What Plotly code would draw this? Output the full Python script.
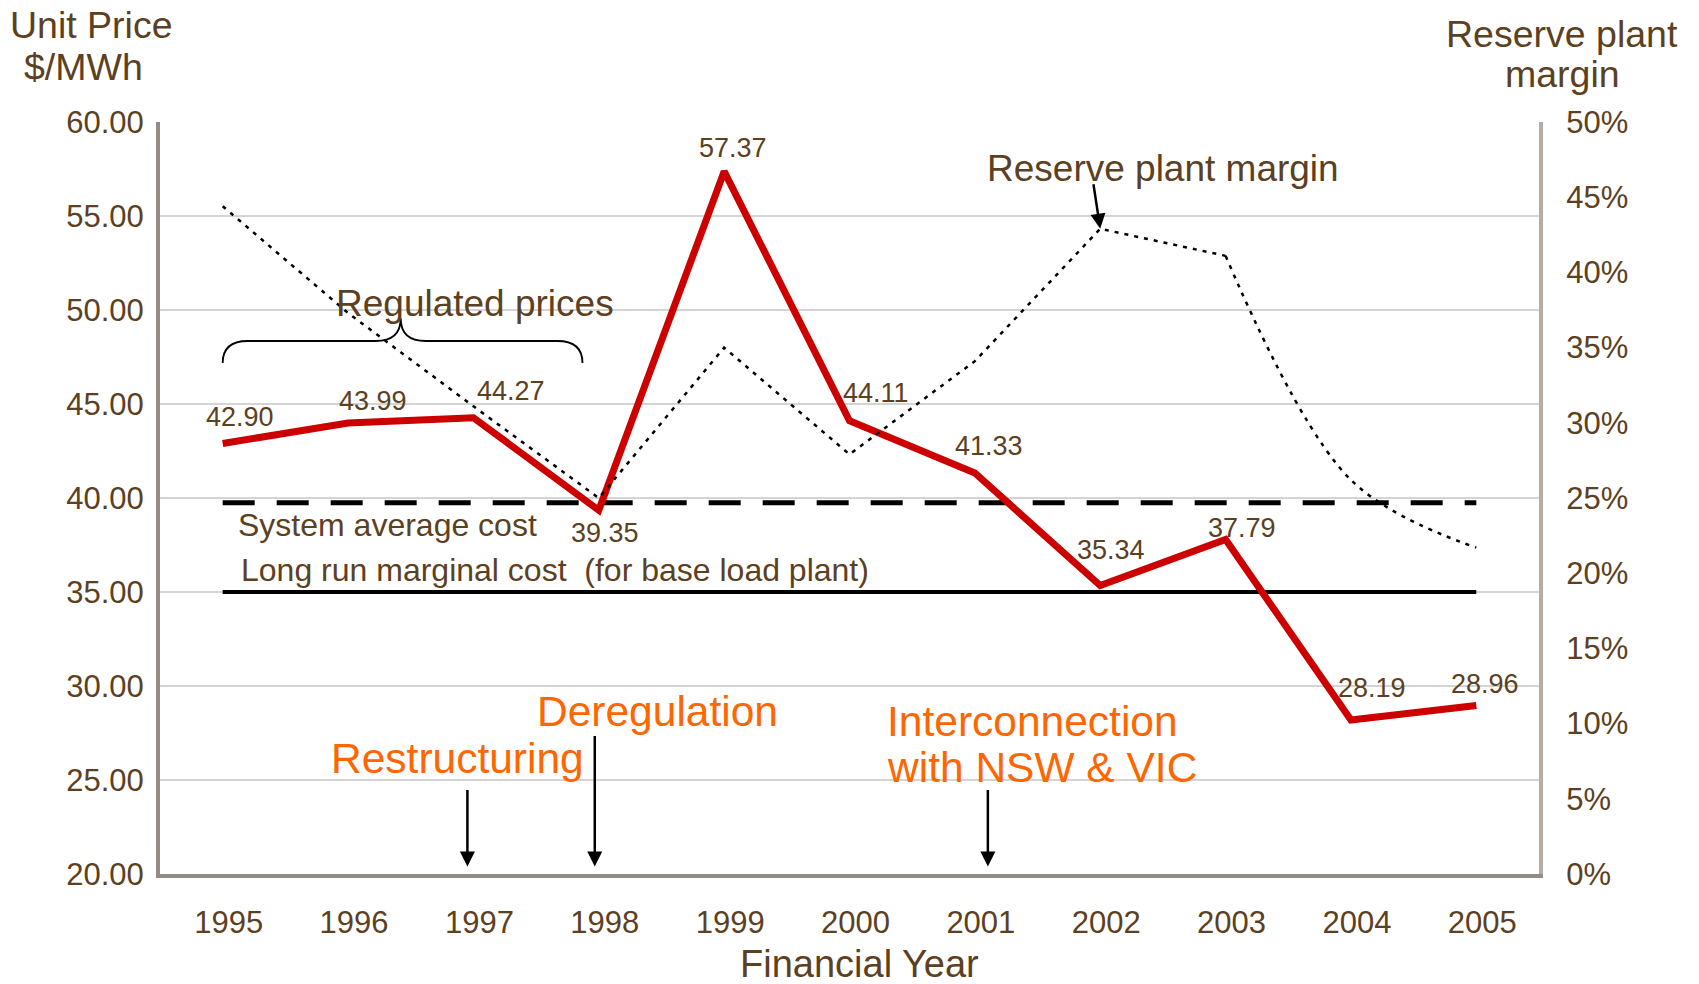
import plotly.graph_objects as go

# ---------------- data ----------------
years = [1995, 1996, 1997, 1998, 1999, 2000, 2001, 2002, 2003, 2004, 2005]
unit_price = [42.90, 43.99, 44.27, 39.35, 57.37, 44.11, 41.33, 35.34, 37.79, 28.19, 28.96]
reserve_margin = [44.4, 37.3, 31.1, 25.0, 35.0, 27.9, 34.1, 42.9, 41.1, 26.2, 21.7]
system_avg_cost = 39.75
long_run_marginal_cost = 35.0
price_ticks = [20, 25, 30, 35, 40, 45, 50, 55, 60]
margin_ticks = [0, 5, 10, 15, 20, 25, 30, 35, 40, 45, 50]
event_labels = ["Restructuring", "Deregulation", "Interconnection"]
event_years = [1997, 1998, 2001]

# ---------------- styles ----------------
FONT = "Liberation Sans, Arial, sans-serif"
BROWN = "#5C4022"
ORANGE = "#FF6600"
RED = "#CC0000"

fig = go.Figure()

# dotted reserve margin: straight segments up to 2003, smoothed tail afterwards
fig.add_trace(go.Scatter(x=years[:9], y=reserve_margin[:9], yaxis="y2", mode="lines",
                         line=dict(color="black", width=2.5, dash="4px,6px"),
                         hoverinfo="skip"))
fig.add_trace(go.Scatter(x=years[8:], y=reserve_margin[8:], yaxis="y2", mode="lines",
                         line=dict(color="black", width=2.5, dash="4px,6px",
                                   shape="spline", smoothing=1.0),
                         hoverinfo="skip"))

# reference cost lines
fig.add_trace(go.Scatter(x=[years[0], years[-1]], y=[system_avg_cost] * 2, mode="lines",
                         line=dict(color="black", width=5, dash="32px,22px")))
fig.add_trace(go.Scatter(x=[years[0], years[-1]], y=[long_run_marginal_cost] * 2, mode="lines",
                         line=dict(color="black", width=4)))

# unit price
fig.add_trace(go.Scatter(x=years, y=unit_price, mode="lines",
                         line=dict(color=RED, width=7)))

annotations = []

# data labels (offsets in pixels)
label_dx = [17, 25, 38, 6, 9, 26, 14, 11, 16, 21, 9]
label_dy = [26, 22, 27, -23, 23, 28, 27, 36, 12, 32, 22]
for i, (yr, v) in enumerate(zip(years, unit_price)):
    annotations.append(dict(x=yr, y=v, text=f"{v:.2f}", showarrow=False,
                            xanchor="center", yanchor="middle",
                            xshift=label_dx[i], yshift=label_dy[i],
                            font=dict(size=27, color=BROWN, family=FONT)))

# event arrows
arrow_len = [78, 132, 78]
arrow_xshift = [-6, -4, 13]
for yr, L, xs in zip(event_years, arrow_len, arrow_xshift):
    annotations.append(dict(x=yr, y=20.4, ax=0, ay=-L, showarrow=True,
                            arrowhead=2, arrowsize=1.2, arrowwidth=2.5,
                            arrowcolor="black", xshift=xs, text=""))


def txt(x, y, text, size, color=BROWN, xanchor="center", **kw):
    d = dict(x=x, y=y, text=text, showarrow=False, xanchor=xanchor, yanchor="middle",
             font=dict(size=size, color=color, family=FONT))
    d.update(kw)
    return d


# event texts
annotations += [
    txt(1996.87, 26.14, event_labels[0], 42.5, ORANGE),
    txt(1998.47, 28.62, event_labels[1], 42.5, ORANGE),
    txt(2000.28, 28.1, event_labels[2], 42.5, ORANGE, xanchor="left"),
    txt(2000.28, 25.69, "with NSW &amp; VIC", 42.5, ORANGE, xanchor="left"),
]

# cost line labels
annotations += [
    txt(1995.11, 38.54, "System average cost", 32, xanchor="left"),
    txt(1995.13, 36.17, "Long run marginal cost  (for base load plant)", 32, xanchor="left"),
]

# regulated prices label + reserve label with arrow
annotations += [
    txt(1997.01, 50.35, "Regulated prices", 37),
    txt(2002.5, 57.55, "Reserve plant margin", 37),
    dict(x=years[7], y=reserve_margin[7], yref="y2", ax=-7, ay=-46, showarrow=True,
         arrowhead=2, arrowsize=1.2, arrowwidth=2.5, arrowcolor="black", text=""),
]

# axis titles (paper coords; plot area spans 752 px tall, 1379 px wide)
PH, PW = 752.0, 1379.0
annotations += [
    txt((91 - 160) / PW, (874 - 25) / PH, "Unit Price", 37.5, xref="paper", yref="paper"),
    txt((83 - 160) / PW, (874 - 67) / PH, "$/MWh", 37.5, xref="paper", yref="paper"),
    txt((1562 - 160) / PW, (874 - 34) / PH, "Reserve plant", 37.5, xref="paper", yref="paper"),
    txt((1562 - 160) / PW, (874 - 74) / PH, "margin", 37.5, xref="paper", yref="paper"),
    txt((859 - 160) / PW, (874 - 964) / PH, "Financial Year", 38, xref="paper", yref="paper"),
]

# curly brace for regulated prices
bx0, bx1, btip = years[0], 1997.87, 1996.42
by_end, by_h, by_tip = 47.18, 48.35, 49.56
r = 0.2
brace = (f"M {bx0},{by_end} Q {bx0},{by_h} {bx0 + r},{by_h} "
         f"L {btip - r},{by_h} Q {btip},{by_h} {btip},{by_tip} "
         f"Q {btip},{by_h} {btip + r},{by_h} "
         f"L {bx1 - r},{by_h} Q {bx1},{by_h} {bx1},{by_end}")

fig.update_layout(
    width=1699, height=984,
    margin=dict(l=160, r=160, t=122, b=110),
    paper_bgcolor="white", plot_bgcolor="white",
    showlegend=False,
    font=dict(family=FONT, color=BROWN),
    annotations=annotations,
    shapes=[dict(type="path", path=brace, xref="x", yref="y",
                 line=dict(color="black", width=1.8))],
    xaxis=dict(range=[1994.5, 2005.5], tickvals=years, ticktext=[str(y) for y in years],
               showgrid=False, zeroline=False, showline=True, linecolor="#958B82",
               linewidth=4, ticks="", tickfont=dict(size=31, color=BROWN),
               ticklabelstandoff=18, ticklabelshift=6, automargin=False),
    yaxis=dict(range=[20, 60], tickvals=price_ticks,
               ticktext=[f"{v:.2f}" for v in price_ticks],
               showgrid=True, gridcolor="#D4D4D4", gridwidth=1.5, zeroline=False,
               showline=True, linecolor="#958B82", linewidth=4, ticks="",
               tickfont=dict(size=31, color=BROWN), ticklabelstandoff=6, automargin=False),
    yaxis2=dict(range=[0, 50], tickvals=margin_ticks,
                ticktext=[f"{v}%" for v in margin_ticks],
                overlaying="y", side="right", showgrid=False, zeroline=False,
                showline=True, linecolor="#B5ADA6", linewidth=4, ticks="",
                tickfont=dict(size=31, color=BROWN), ticklabelstandoff=17, automargin=False),
)

# remove the default 8px page margin so the figure fills the window exactly
fig.write_html("out.html", config={"displayModeBar": False},
               post_script="document.body.style.margin='0';document.body.style.overflow='hidden';")
